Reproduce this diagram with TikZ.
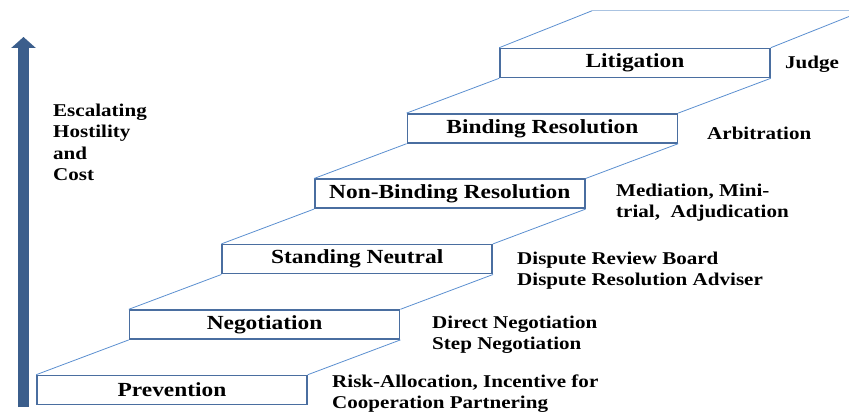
\documentclass[tikz,border=0pt]{standalone}
\usepackage{fontspec}
\setmainfont{Liberation Serif}[FakeStretch=1.17]
\usepackage{tikz}
\usetikzlibrary{arrows.meta}
\definecolor{arrowblue}{RGB}{59,94,140}
\definecolor{stepblue}{RGB}{74,110,160}
\definecolor{riserblue}{RGB}{91,143,208}
\definecolor{edgeblue}{RGB}{170,195,225}

\begin{document}
\begin{tikzpicture}[x=1pt, y=-1pt,
    stepbox/.style={draw=stepblue, line width=1.6pt, minimum width=270pt,
        minimum height=29pt, inner sep=0pt, font=\fontsize{20}{24}\selectfont\bfseries},
    means/.style={anchor=west, align=left, inner sep=0pt,
        font=\fontsize{18}{21}\selectfont\bfseries},
    riser/.style={riserblue, line width=0.8pt}]
    \useasboundingbox (0,0) rectangle (849,414);

    % escalation arrow
    \coordinate (base) at (23.5,407);
    \coordinate (tip) at (23.5,37);
    \draw[arrowblue, line width=11pt, -{Triangle[width=24pt,length=11pt]}] (base) -- (tip);
    \node[means, font=\fontsize{18}{21.5}\selectfont\bfseries] (escal) at (53,142.5)
        {Escalating\\Hostility\\and\\Cost};

    % steps of the staircase
    \node[stepbox] (prev) at (172,390) {Prevention};
    \node[stepbox] (neg) at (264.6,324.6) {Negotiation};
    \node[stepbox] (stand) at (357.2,259.2) {Standing Neutral};
    \node[stepbox] (nonbind) at (449.8,193.8) {Non-Binding Resolution};
    \node[stepbox] (bind) at (542.4,128.4) {Binding Resolution};
    \node[stepbox] (lit) at (635,63) {Litigation};

    % risers between the steps
    \foreach \a/\b in {prev/neg, neg/stand, stand/nonbind, nonbind/bind, bind/lit} {
        \draw[riser] (\a.north west) -- (\b.south west);
        \draw[riser] (\a.north east) -- (\b.south east);
    }

    % landing above the top step
    \coordinate (landing) at ([shift={(93,-37)}]lit.north west);
    \coordinate (edge) at (849,0);
    \draw[riser] (lit.north west) -- (landing);
    \draw[edgeblue, line width=1.2pt] (landing) -- (landing -| edge);
    \draw[riser] (lit.north east) -- ++(79,-31.5);

    % means at each step
    \node[means] (judge) at (785,64) {Judge};
    \node[means] (arbitration) at (707,133) {Arbitration};
    \node[means] (mediation) at (616,202.5) {Mediation, Mini-\\trial,\ \ Adjudication};
    \node[means] (board) at (517,270.5) {Dispute Review Board\\Dispute Resolution Adviser};
    \node[means] (direct) at (432,334.5) {Direct Negotiation\\Step Negotiation};
    \node[means] (risk) at (332,393.5) {Risk-Allocation, Incentive for\\Cooperation Partnering};
\end{tikzpicture}
\end{document}
